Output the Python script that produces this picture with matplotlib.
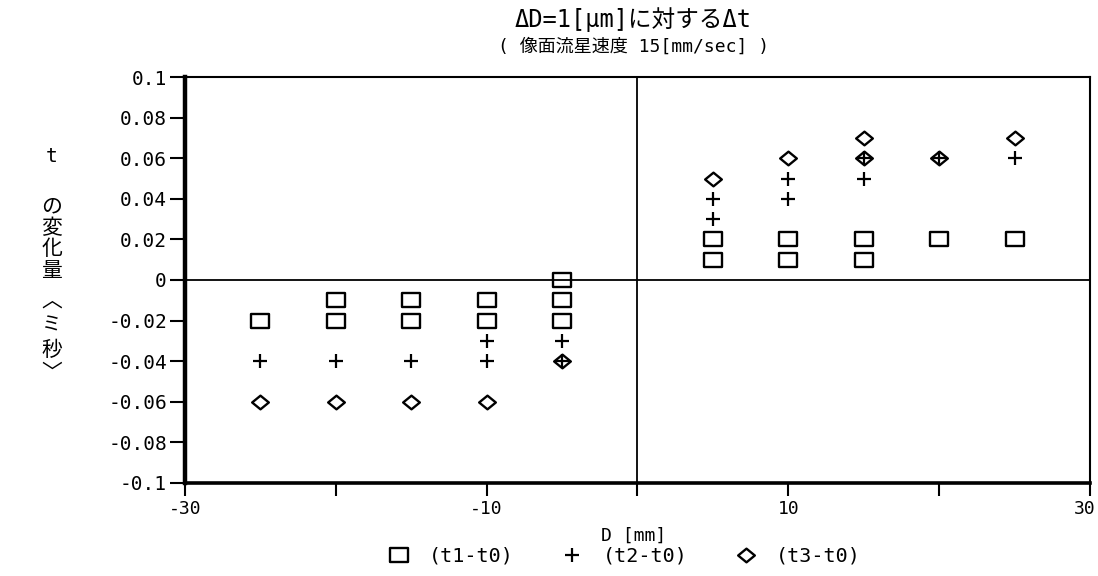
import matplotlib
matplotlib.use("Agg")
import matplotlib.pyplot as plt
import matplotlib.transforms as mtransforms
from matplotlib.lines import Line2D
from matplotlib.path import Path

# Measured time differences vs. displacement D
t1_x = [-25, -20, -20, -15, -15, -10, -10, -5, -5, -5, 5, 5, 10, 10, 15, 15, 20, 25]
t1_y = [-0.02, -0.01, -0.02, -0.01, -0.02, -0.01, -0.02, 0.0, -0.01, -0.02,
        0.01, 0.02, 0.01, 0.02, 0.01, 0.02, 0.02, 0.02]

t2_x = [-25, -20, -15, -10, -10, -5, -5, 5, 5, 10, 10, 15, 15, 20, 25]
t2_y = [-0.04, -0.04, -0.04, -0.03, -0.04, -0.03, -0.04,
        0.03, 0.04, 0.04, 0.05, 0.05, 0.06, 0.06, 0.06]

t3_x = [-25, -20, -15, -10, -5, 5, 10, 15, 15, 20, 25]
t3_y = [-0.06, -0.06, -0.06, -0.06, -0.04, 0.05, 0.06, 0.06, 0.07, 0.06, 0.07]

series_labels = ["(t1-t0)", "(t2-t0)", "(t3-t0)"]

y_ticks = [0.1, 0.08, 0.06, 0.04, 0.02, 0, -0.02, -0.04, -0.06, -0.08, -0.1]
y_tick_labels = ["0.1", "0.08", "0.06", "0.04", "0.02", "0",
                 "-0.02", "-0.04", "-0.06", "-0.08", "-0.1"]
x_ticks = [-30, -20, -10, 0, 10, 20, 30]
x_tick_labels = ["-30", "", "-10", "", "10", "", "30"]

title_line1 = "ΔD=1[μm]に対するΔt"
title_line2 = "( 像面流星速度 15[mm/sec] )"
x_label = "D [mm]"

CJK = ["Noto Sans CJK JP", "DejaVu Sans"]
MONO = ["DejaVu Sans Mono"]
MIXED = ["DejaVu Sans Mono", "Noto Sans CJK JP"]

# Slightly flattened box and diamond symbols, like a plotter's glyphs
box = Path([(-1, -0.78), (1, -0.78), (1, 0.78), (-1, 0.78), (-1, -0.78)],
           [Path.MOVETO, Path.LINETO, Path.LINETO, Path.LINETO, Path.CLOSEPOLY])
diamond = Path([(-1, 0), (0, 0.82), (1, 0), (0, -0.82), (-1, 0)],
               [Path.MOVETO, Path.LINETO, Path.LINETO, Path.LINETO, Path.CLOSEPOLY])

fig = plt.figure(figsize=(10.98, 5.76), dpi=100)
ax = fig.add_axes([0.1685, 0.1615, 0.8242, 0.7048])

ax.set_xlim(-30, 30)
ax.set_ylim(-0.1, 0.1)

ax.axhline(0, color="black", lw=1.3, zorder=1)
ax.axvline(0, color="black", lw=1.3, zorder=1)

mk = dict(linestyle="none", color="black", markerfacecolor="none", zorder=3)
sq_kw = dict(marker=box, markersize=13, markeredgewidth=1.7)
pl_kw = dict(marker="+", markersize=10, markeredgewidth=1.6)
di_kw = dict(marker=diamond, markersize=12, markeredgewidth=1.7)

ax.plot(t1_x, t1_y, **sq_kw, **mk)
ax.plot(t2_x, t2_y, **pl_kw, **mk)
ax.plot(t3_x, t3_y, **di_kw, **mk)

ax.set_yticks(y_ticks)
ax.set_yticklabels(y_tick_labels, family=MONO, fontsize=14)
ax.set_xticks(x_ticks)
ax.set_xticklabels(x_tick_labels, family=MONO, fontsize=13)
ax.tick_params(axis="y", direction="out", length=11, width=1.5, pad=2)
ax.tick_params(axis="x", direction="out", length=9, width=1.5, pad=3)

# Keep the rightmost tick label inside the figure edge
last = ax.get_xticklabels()[-1]
last.set_horizontalalignment("right")
last.set_transform(last.get_transform() +
                   mtransforms.ScaledTranslation(6 / 100, 0, fig.dpi_scale_trans))

ax.spines["left"].set_linewidth(3.2)
ax.spines["bottom"].set_linewidth(2.6)
for side in ["top", "right"]:
    ax.spines[side].set_linewidth(1.5)

# Titles
fig.text(0.577, 0.966, title_line1, ha="center", va="center",
         family=MIXED, fontsize=17)
fig.text(0.577, 0.918, title_line2, ha="center", va="center",
         family=MIXED, fontsize=13)

# Vertical y-axis caption, one character per line
cx = 0.047
fig.text(cx, 0.728, "t", ha="center", va="center", family=MONO, fontsize=14)
cap_chars = ["の", "変", "化", "量"]
for i, ch in enumerate(cap_chars):
    fig.text(cx, 0.641 - i * 0.037, ch, ha="center", va="center",
             family=CJK, fontsize=15)
fig.text(cx, 0.478, "︿", ha="center", va="center", family=CJK, fontsize=15)
fig.text(cx, 0.436, "ミ", ha="center", va="center", family=CJK, fontsize=14)
fig.text(cx, 0.393, "秒", ha="center", va="center", family=CJK, fontsize=15)
fig.text(cx, 0.352, "﹀", ha="center", va="center", family=CJK, fontsize=15)

# X label
fig.text(0.577, 0.070, x_label, ha="center", va="center", family=MONO, fontsize=13)

# Legend along the bottom
handles = [
    Line2D([], [], **sq_kw, **mk),
    Line2D([], [], **pl_kw, **mk),
    Line2D([], [], **di_kw, **mk),
]
fig.legend(handles, series_labels, loc="center", bbox_to_anchor=(0.569, 0.034),
           ncol=3, frameon=False, prop={"family": MONO, "size": 14.5},
           handlelength=1.0, handletextpad=1.0, columnspacing=2.4)

fig.savefig("out.png", dpi=100)
